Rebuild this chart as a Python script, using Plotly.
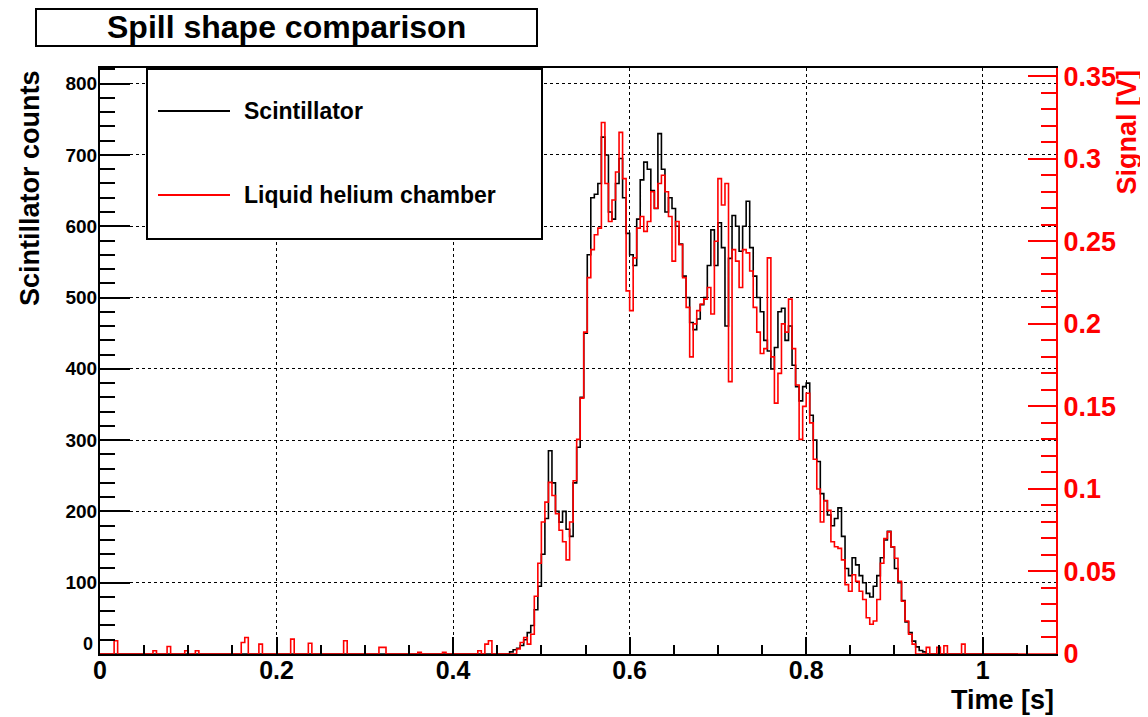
import plotly.graph_objects as go

# ---------------- data ----------------
BIN_WIDTH = 0.004          # s
N_BINS_HELIUM = 271        # 0 .. 1.084 s
N_BINS_SCINT = 260         # 0 .. 1.04 s
MAIN_START = 0.46          # first bin of the spill region

# Scintillator counts, bins starting at 0.460 s, every 0.004 s
scint_counts = [
    0, 3, 6, 8, 12, 20, 30, 40, 62, 95,
    140, 190, 285, 240, 200, 185, 200, 175, 165, 240,
    290, 360, 450, 560, 640, 645, 660, 725, 700, 620,
    610, 660, 695, 640, 590, 560, 545, 610, 665, 690,
    680, 650, 625, 730, 680, 620, 640, 625, 600, 575,
    530, 500, 465, 455, 470, 490, 500, 545, 595, 545,
    605, 570, 460, 555, 615, 600, 565, 600, 635, 570,
    530, 500, 480, 440, 425, 400, 430, 480, 485, 440,
    460, 405, 375, 355, 375, 380, 335, 300, 270, 225,
    215, 195, 180, 190, 205, 165, 120, 110, 135, 125,
    110, 100, 85, 80, 95, 110, 135, 160, 172, 150,
    120, 100, 75, 45, 30, 18, 10, 5, 3, 0,
    0,
]

# Liquid helium chamber signal [V], same bins
helium_signal = [
    0, 0, 0, 0.003, 0.007, 0.010, 0.006, 0.012, 0.035, 0.055,
    0.080, 0.092, 0.104, 0.096, 0.085, 0.075, 0.068, 0.057, 0.080, 0.105,
    0.130, 0.155, 0.195, 0.228, 0.245, 0.254, 0.258, 0.322, 0.285, 0.262,
    0.275, 0.292, 0.316, 0.288, 0.220, 0.208, 0.240, 0.258, 0.265, 0.256,
    0.262, 0.280, 0.270, 0.285, 0.290, 0.280, 0.265, 0.238, 0.262, 0.248,
    0.228, 0.210, 0.180, 0.200, 0.208, 0.212, 0.215, 0.222, 0.206, 0.250,
    0.288, 0.272, 0.285, 0.165, 0.245, 0.238, 0.222, 0.245, 0.243, 0.232,
    0.210, 0.195, 0.182, 0.185, 0.240, 0.180, 0.152, 0.170, 0.200, 0.195,
    0.215, 0.185, 0.163, 0.130, 0.150, 0.158, 0.140, 0.118, 0.100, 0.080,
    0.093, 0.087, 0.068, 0.065, 0.064, 0.057, 0.042, 0.038, 0.048, 0.044,
    0.038, 0.033, 0.022, 0.018, 0.020, 0.033, 0.055, 0.070, 0.074, 0.065,
    0.058, 0.044, 0.032, 0.020, 0.012, 0.006, 0, 0, 0, 0.004,
    0,
]

# small noise spikes of the helium chamber outside the spill
noise_times = [0.016, 0.060, 0.076, 0.096, 0.108, 0.160, 0.164, 0.180, 0.216,
               0.236, 0.276, 0.316, 0.320, 0.360, 0.388, 0.428, 0.436, 0.440,
               0.948, 0.956, 0.976]
noise_volts = [0.008, 0.002, 0.0045, 0.002, 0.002, 0.007, 0.010, 0.006, 0.009,
               0.0065, 0.008, 0.004, 0.004, 0.001, 0.001, 0.002, 0.006, 0.008,
               0.004, 0.005, 0.006]

x_tick_vals = [0, 0.2, 0.4, 0.6, 0.8, 1.0]
x_tick_text = ["0", "0.2", "0.4", "0.6", "0.8", "1"]
y_tick_vals = [0, 100, 200, 300, 400, 500, 600, 700, 800]
y_tick_text = ["", "100", "200", "300", "400", "500", "600", "700", "800"]
y_zero_label = "0"
y2_tick_vals = [0, 0.05, 0.1, 0.15, 0.2, 0.25, 0.3, 0.35]
y2_tick_text = ["0", "0.05", "0.1", "0.15", "0.2", "0.25", "0.3", "0.35"]

# ---------------- assemble histograms ----------------
start_idx = round(MAIN_START / BIN_WIDTH)
scint = [0.0] * N_BINS_SCINT
helium = [0.0] * N_BINS_HELIUM
for i, v in enumerate(scint_counts):
    scint[start_idx + i] = v
for i, v in enumerate(helium_signal):
    helium[start_idx + i] = v
for t, v in zip(noise_times, noise_volts):
    helium[round(t / BIN_WIDTH)] = v

scint_x = [i * BIN_WIDTH for i in range(N_BINS_SCINT + 1)]
helium_x = [i * BIN_WIDTH for i in range(N_BINS_HELIUM + 1)]
scint_y = scint + [scint[-1]]
helium_y = helium + [helium[-1]]

FONT = "Liberation Sans"
RED = "#ff0000"

fig = go.Figure()
fig.add_trace(go.Scatter(x=helium_x, y=helium_y, mode="lines", line_shape="hv",
                         line=dict(color=RED, width=1.6), yaxis="y2",
                         name="Liquid helium chamber", showlegend=False))
fig.add_trace(go.Scatter(x=scint_x, y=scint_y, mode="lines", line_shape="hv",
                         line=dict(color="black", width=1.6),
                         name="Scintillator", showlegend=False))

# the page body has an 8 px margin, so the figure is 8 px smaller
W, H = 1140, 709
ML, MR, MT, MB = 92, 92, 60, 63
PAGE_L, PAGE_B = 100, 654          # plot-area corners in page pixels
PW, PH = W - ML - MR, H - MT - MB


def px(xp):
    return (xp - PAGE_L) / PW


def py(yp):
    return (PAGE_B - yp) / PH


fig.update_layout(
    width=W, height=H,
    margin=dict(l=ML, r=MR, t=MT, b=MB, autoexpand=False),
    paper_bgcolor="white", plot_bgcolor="white",
    font=dict(family=FONT, color="black"),
    xaxis=dict(
        range=[0, 1.083], showline=True, linecolor="black", linewidth=2,
        mirror=True, ticks="inside", ticklen=17, tickwidth=2, tickcolor="black",
        tickvals=x_tick_vals, ticktext=x_tick_text,
        tickfont=dict(size=25, weight="bold", family=FONT),
        ticklabelstandoff=-7,
        showgrid=True, gridcolor="black", griddash="dot", gridwidth=1,
        zeroline=False, automargin=False,
        minor=dict(dtick=0.05, tick0=0, ticks="inside", ticklen=9,
                   tickwidth=2, tickcolor="black", showgrid=False),
    ),
    yaxis=dict(
        range=[0, 822], showline=True, linecolor="black", linewidth=2,
        ticks="inside", ticklen=30, tickwidth=2, tickcolor="black",
        tickvals=y_tick_vals, ticktext=y_tick_text,
        tickfont=dict(size=19, weight="bold", family=FONT),
        ticklabelstandoff=-3,
        showgrid=True, gridcolor="black", griddash="dot", gridwidth=1,
        zeroline=False, automargin=False,
        minor=dict(dtick=20, tick0=0, ticks="inside", ticklen=15,
                   tickwidth=2, tickcolor="black", showgrid=False),
    ),
    yaxis2=dict(
        overlaying="y", side="right", range=[0, 0.355],
        showline=True, linecolor=RED, linewidth=2,
        ticks="inside", ticklen=28, tickwidth=2, tickcolor=RED,
        tickvals=y2_tick_vals, ticktext=y2_tick_text,
        tickfont=dict(size=27, weight="bold", family=FONT, color=RED),
        showgrid=False, zeroline=False, automargin=False,
        minor=dict(dtick=0.01, tick0=0, ticks="inside", ticklen=15,
                   tickwidth=2, tickcolor=RED, showgrid=False),
    ),
)

shapes = [
    # title box
    dict(type="rect", xref="paper", yref="paper",
         x0=px(36), x1=px(537), y0=py(46), y1=py(9),
         line=dict(color="black", width=2), fillcolor="white", layer="above"),
    # legend box
    dict(type="rect", xref="paper", yref="paper",
         x0=px(147), x1=px(542), y0=py(239), y1=py(69),
         line=dict(color="black", width=2), fillcolor="white", layer="above"),
    dict(type="line", xref="paper", yref="paper",
         x0=px(158), x1=px(230), y0=py(111), y1=py(111),
         line=dict(color="black", width=2), layer="above"),
    dict(type="line", xref="paper", yref="paper",
         x0=px(158), x1=px(230), y0=py(195), y1=py(195),
         line=dict(color=RED, width=2), layer="above"),
]
fig.update_layout(shapes=shapes)

bold = dict(family=FONT, weight="bold")
annotations = [
    dict(text="Spill shape comparison", xref="paper", yref="paper",
         x=px(286.5), y=py(27), xanchor="center", yanchor="middle",
         showarrow=False, font=dict(size=32, color="black", **bold)),
    dict(text="Scintillator", xref="paper", yref="paper",
         x=px(242), y=py(111), xanchor="left", yanchor="middle",
         showarrow=False, font=dict(size=23, color="black", **bold)),
    dict(text="Liquid helium chamber", xref="paper", yref="paper",
         x=px(242), y=py(195), xanchor="left", yanchor="middle",
         showarrow=False, font=dict(size=23, color="black", **bold)),
    dict(text="Scintillator counts", xref="paper", yref="paper",
         x=0, xshift=-70, y=1, xanchor="center", yanchor="top",
         textangle=-90, showarrow=False,
         font=dict(size=27, color="black", **bold)),
    dict(text="Signal [V]", xref="paper", yref="paper",
         x=1, xshift=70, y=1, xanchor="center", yanchor="top",
         textangle=-90, showarrow=False,
         font=dict(size=27, color=RED, **bold)),
    dict(text="Time [s]", xref="paper", yref="paper",
         x=1, xshift=0, y=0, yshift=-46, xanchor="right", yanchor="middle",
         showarrow=False, font=dict(size=27, color="black", **bold)),
    # the left axis "0" label sits slightly raised, as in the reference
    dict(text=y_zero_label, xref="paper", yref="paper",
         x=0, xshift=-5, y=0, yshift=10, xanchor="right", yanchor="middle",
         showarrow=False, font=dict(size=18, color="black", **bold)),
]
fig.update_layout(annotations=annotations)

fig.write_html("out.html")
